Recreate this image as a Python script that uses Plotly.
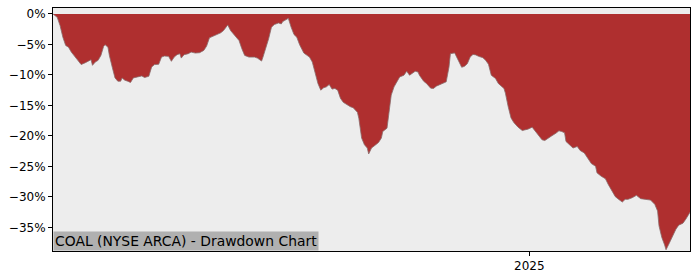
import pandas as pd
import plotly.graph_objects as go

start_date = "2024-01-29"
end_date = "2025-04-25"

day_offset = [0, 3, 5, 7, 9, 11, 13, 16, 18, 20, 23, 25, 27, 28, 30, 32, 34, 36, 37, 39,
              40, 42, 44, 46, 48, 49, 51, 53, 55, 57, 60, 63, 65, 68, 70, 72, 75, 77, 79, 82,
              84, 86, 88, 90, 91, 93, 96, 98, 101, 104, 107, 109, 111, 114, 116, 119, 121, 123, 124, 126,
              128, 130, 132, 134, 136, 139, 141, 143, 145, 148, 149, 151, 153, 155, 157, 160, 162, 163, 166, 167,
              169, 171, 173, 175, 178, 180, 182, 184, 186, 188, 190, 192, 194, 196, 198, 200, 202, 204, 206, 208,
              211, 213, 216, 217, 219, 221, 223, 224, 226, 229, 231, 233, 234, 237, 238, 240, 242, 244, 246, 249,
              251, 253, 255, 257, 259, 260, 263, 265, 268, 270, 272, 275, 277, 279, 281, 282, 285, 287, 290, 292,
              294, 296, 298, 300, 302, 305, 307, 309, 311, 314, 316, 320, 321, 323, 325, 327, 330, 333, 335, 337,
              340, 342, 344, 347, 349, 352, 354, 357, 359, 361, 363, 364, 367, 369, 372, 374, 377, 380, 382, 385,
              386, 389, 392, 394, 397, 399, 402, 404, 406, 408, 411, 414, 417, 420, 424, 427, 429, 430, 432, 434,
              435, 437, 439, 442, 444, 447, 449, 451, 452]

drawdown = [0.00, -0.55, -1.90, -3.81, -5.16, -5.44, -6.25, -7.07, -7.76, -8.30, -7.98, -7.76, -7.49, -8.42, -7.88, -7.60, -6.79, -5.27, -5.05, -5.44,
            -6.79, -8.69, -10.48, -11.02, -11.02, -10.48, -10.86, -11.02, -11.23, -10.48, -10.32, -10.16, -10.42, -10.21, -8.69, -8.30, -8.25, -7.07, -6.90, -6.95,
            -7.76, -7.07, -6.67, -6.51, -7.23, -6.67, -6.51, -6.25, -6.41, -6.35, -5.97, -5.27, -3.91, -3.65, -3.42, -3.09, -2.72, -2.18, -1.79, -2.72,
            -3.26, -3.65, -4.35, -5.70, -6.79, -7.07, -7.07, -7.07, -7.23, -7.72, -7.07, -5.70, -4.07, -2.18, -1.74, -1.47, -1.63, -1.25, -0.93, -0.72,
            -2.18, -3.37, -3.81, -5.05, -6.41, -6.79, -7.07, -7.88, -9.51, -11.40, -12.49, -12.11, -11.95, -11.56, -12.32, -12.21, -12.49, -13.84, -14.49, -14.81,
            -15.20, -15.37, -16.12, -17.09, -20.35, -21.44, -21.98, -22.95, -21.98, -21.44, -21.06, -20.35, -19.27, -18.72, -16.56, -13.30, -11.95, -11.02, -10.32, -10.04,
            -9.39, -10.04, -9.77, -9.39, -9.51, -10.04, -11.02, -11.40, -12.16, -12.21, -11.83, -11.56, -11.30, -11.13, -8.69, -6.51, -6.38, -7.33, -8.74, -8.58,
            -8.14, -7.07, -6.63, -6.71, -6.95, -7.16, -7.60, -8.25, -10.04, -10.58, -11.40, -12.21, -12.97, -15.20, -17.04, -17.81, -18.56, -19.11, -19.00, -18.88,
            -18.56, -19.11, -19.81, -20.63, -20.74, -20.35, -19.97, -19.53, -19.16, -19.27, -19.49, -20.90, -21.60, -21.98, -21.72, -22.37, -22.79, -23.77, -24.53, -24.97,
            -26.05, -26.60, -27.02, -27.95, -29.30, -29.95, -30.51, -30.83, -30.39, -30.39, -30.12, -29.74, -30.28, -30.39, -30.51, -31.21, -32.30, -34.74, -36.63, -37.88,
            -38.65, -37.72, -36.63, -35.28, -34.62, -34.30, -33.65, -32.83, -32.51]

y_ticks = [0, -5, -10, -15, -20, -25, -30, -35]
y_tick_labels = ["0%", "\u22125%", "\u221210%", "\u221215%", "\u221220%", "\u221225%", "\u221230%", "\u221235%"]
x_ticks = ["2025-01-01"]
x_tick_labels = ["2025"]
title_text = "COAL (NYSE ARCA) - Drawdown Chart"

dates = pd.to_datetime(start_date) + pd.to_timedelta(day_offset, unit="D")

fig = go.Figure()
fig.add_trace(go.Scatter(
    x=dates, y=drawdown, mode="lines", fill="tozeroy",
    fillcolor="#AF2F2F", line=dict(color="#8a6a6a", width=0.8),
    hoverinfo="skip", showlegend=False,
))

font = dict(family="DejaVu Sans", size=12, color="#000000")
fig.update_layout(
    width=700, height=280,
    margin=dict(l=53, r=10, t=7, b=28),
    paper_bgcolor="#FFFFFF", plot_bgcolor="#EDEDED",
    font=font,
    showlegend=False,
    xaxis=dict(
        range=[start_date, end_date], tickmode="array", tickvals=x_ticks, ticktext=x_tick_labels,
        ticks="outside", ticklen=4, tickwidth=1, tickcolor="#000",
        showgrid=False, zeroline=False, showline=True, linecolor="#000", linewidth=1, mirror=True,
        tickfont=font,
    ),
    yaxis=dict(
        range=[-38.86, 0.98], tickmode="array", tickvals=y_ticks, ticktext=y_tick_labels,
        ticks="outside", ticklen=4, tickwidth=1, tickcolor="#000",
        showgrid=False, zeroline=False, showline=True, linecolor="#000", linewidth=1, mirror=True,
        tickfont=font,
    ),
    annotations=[dict(
        text=title_text, xref="paper", yref="paper", x=0, y=0,
        xanchor="left", yanchor="bottom", showarrow=False,
        bgcolor="#B0B0B0", borderpad=1, font=dict(family="DejaVu Sans", size=13.9, color="#000"),
    )],
)

fig.write_html("out.html")
